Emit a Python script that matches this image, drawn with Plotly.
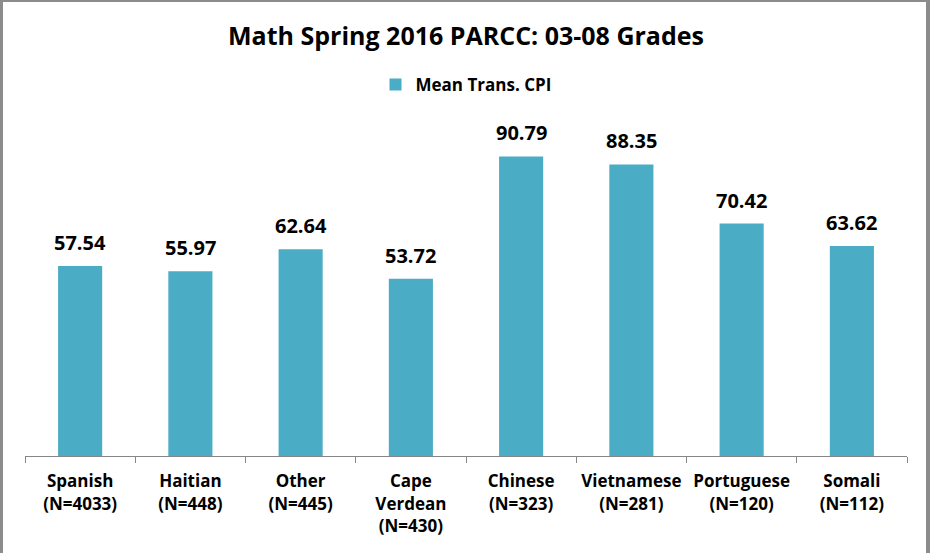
import plotly.graph_objects as go

categories = ["Spanish<br>(N=4033)", "Haitian<br>(N=448)", "Other<br>(N=445)",
              "Cape<br>Verdean<br>(N=430)", "Chinese<br>(N=323)", "Vietnamese<br>(N=281)",
              "Portuguese<br>(N=120)", "Somali<br>(N=112)"]
values = [57.54, 55.97, 62.64, 53.72, 90.79, 88.35, 70.42, 63.62]
series_name = "Mean Trans. CPI"
title_text = "Math Spring 2016 PARCC: 03-08 Grades"

W, H = 930, 553
ml, mr, mt, mb = 25, 23, 126, 97

FONT = "Open Sans"

fig = go.Figure(go.Bar(
    x=categories, y=values, name="<b>" + series_name + "</b>",
    marker=dict(color="#4BACC6", line=dict(width=0)),
    cliponaxis=False, showlegend=True, hoverinfo="skip",
))

annotations = [
    dict(x=c, y=v, xref="x", yref="y", text=f"<b>{v:.2f}</b>", showarrow=False,
         yanchor="bottom", xanchor="center", yshift=8,
         font=dict(family=FONT, size=20, color="#000000"))
    for c, v in zip(categories, values)
]

def px_x(p):
    return (p - ml) / (W - ml - mr)

def px_y(p):
    return (H - mb - p) / (H - mt - mb)

border = "#8c8c8c"
shapes = [
    dict(type="rect", xref="paper", yref="paper", x0=px_x(0), x1=px_x(3), y0=px_y(H), y1=px_y(0),
         fillcolor=border, line=dict(width=0), layer="below"),
    dict(type="rect", xref="paper", yref="paper", x0=px_x(0), x1=px_x(W), y0=px_y(2), y1=px_y(0),
         fillcolor=border, line=dict(width=0), layer="below"),
    dict(type="rect", xref="paper", yref="paper", x0=px_x(926), x1=px_x(W), y0=px_y(H), y1=px_y(0),
         fillcolor=border, line=dict(width=0), layer="below"),
]

fig.update_layout(
    width=W, height=H,
    margin=dict(l=ml, r=mr, t=mt, b=mb, pad=0),
    paper_bgcolor="white", plot_bgcolor="white",
    font=dict(family=FONT, color="#000000"),
    title=dict(text="<b>" + title_text + "</b>", x=0.5, xanchor="center", xref="paper",
               y=1 - 36 / H, yanchor="middle",
               font=dict(family=FONT, size=25, color="#000000")),
    bargap=0.6,
    showlegend=True,
    legend=dict(orientation="h", x=0.5, xanchor="center", y=px_y(85), yanchor="middle",
                font=dict(family=FONT, size=17, color="#000000"), bgcolor="rgba(0,0,0,0)"),
    xaxis=dict(showline=True, linecolor="#868686", linewidth=1, ticks="outside",
               tickson="boundaries", ticklen=6, tickcolor="#868686",
               ticktext=["<b>" + c + "</b>" for c in categories], tickvals=categories,
               tickfont=dict(family=FONT, size=17, color="#000000"),
               ticklabelstandoff=10,
               showgrid=False, zeroline=False, fixedrange=True),
    yaxis=dict(range=[0, 100], visible=False, showgrid=False, zeroline=False, fixedrange=True),
    shapes=shapes,
    annotations=annotations,
)

fig.write_html("out.html", config={"displayModeBar": False},
               post_script="document.body.style.margin='0px';")
